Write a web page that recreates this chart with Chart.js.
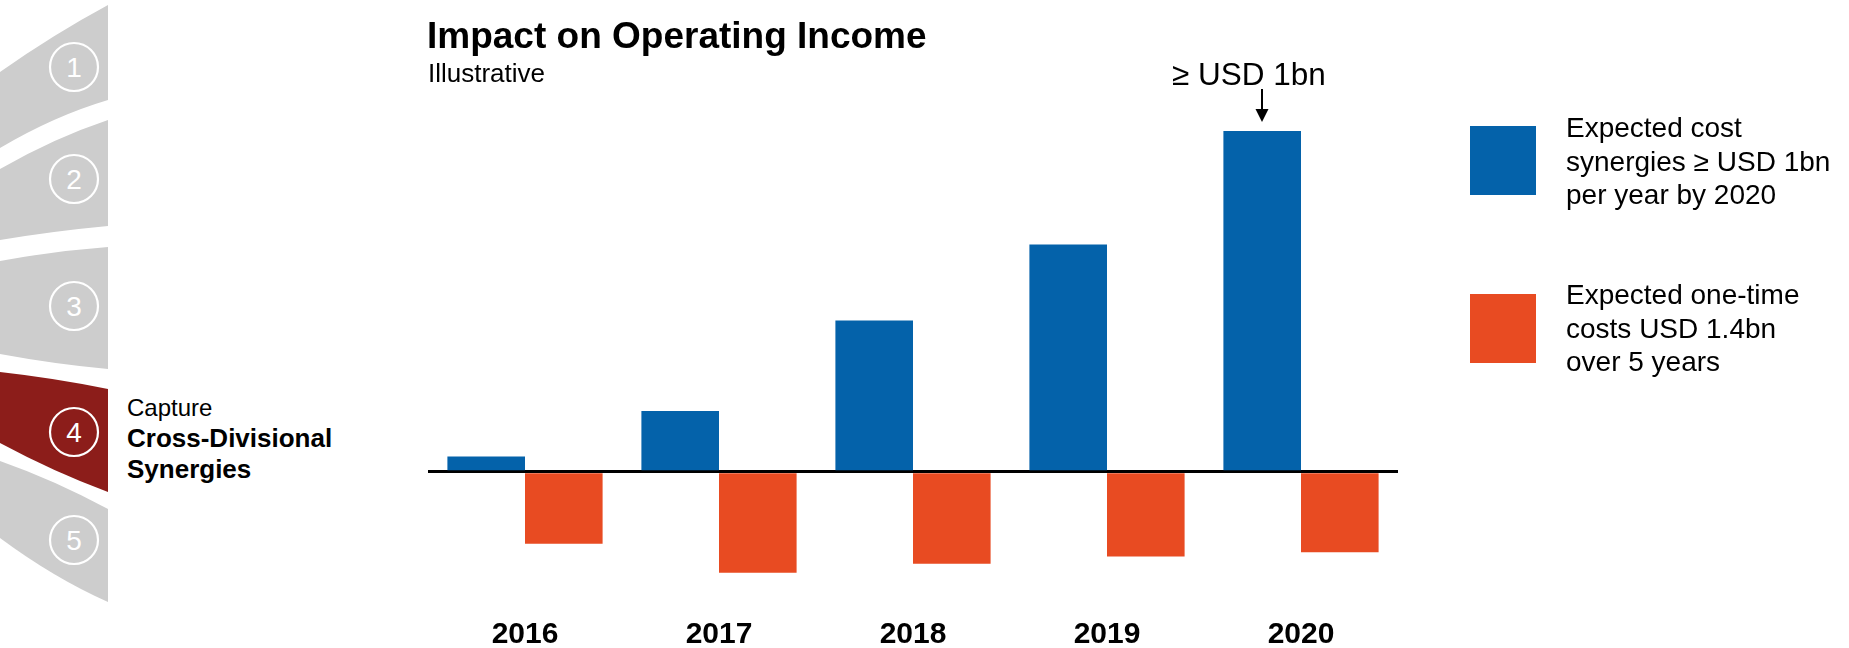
<!DOCTYPE html>
<html>
<head>
<meta charset="utf-8">
<script src="https://cdn.jsdelivr.net/npm/chart.js@4"></script>
<style>
  html, body { margin: 0; padding: 0; background: #fff; }
  body { width: 1849px; height: 648px; overflow: hidden; position: relative;
         font-family: "Liberation Sans", Arial, sans-serif; color: #000; }
  #chart { position: absolute; left: 0; top: 0; }
  .txt { position: absolute; white-space: nowrap; }
  #title { left: 427px; top: 14px; font-size: 37px; line-height: 44px; font-weight: bold; }
  #subtitle { left: 428px; top: 58px; font-size: 26px; line-height: 31px; }
  #target-label { left: 1172px; top: 55px; font-size: 31.5px; line-height: 38px; }
  .swatch { position: absolute; left: 1470px; width: 66px; height: 69px; }
  .legend-text { left: 1566px; font-size: 28px; line-height: 33.6px; }
  #nav { position: absolute; left: 0; top: 0; }
  #nav-label { left: 127px; top: 392px; font-size: 24px; line-height: 31px; }
  #nav-label b { font-weight: bold; font-size: 26px; }
</style>
</head>
<body>

<svg id="nav" width="120" height="648" viewBox="0 0 120 648">
  <g fill="#cdcdcd">
    <path d="M0,72 Q54,34 108,5 L108,100 Q54,116 0,148 Z"/>
    <path d="M0,169 Q54,138 108,120 L108,226 Q54,231 0,240 Z"/>
    <path d="M0,261 Q54,251 108,247 L108,369 Q54,364 0,354 Z"/>
    <path d="M0,461 Q54,480 108,509 L108,602 Q54,578 0,538 Z"/>
  </g>
  <path fill="#8c1d1a" d="M0,372 Q54,378 108,389 L108,492 Q54,472 0,443 Z"/>
  <g fill="none" stroke="#fff" stroke-width="2.2">
    <circle cx="74" cy="67" r="24"/>
    <circle cx="74" cy="179" r="24"/>
    <circle cx="74" cy="306" r="24"/>
    <circle cx="74" cy="432" r="24"/>
    <circle cx="74" cy="540" r="24"/>
  </g>
  <g fill="#fff" font-family="Liberation Sans, Arial, sans-serif" font-size="28" text-anchor="middle">
    <text x="74" y="77">1</text>
    <text x="74" y="189">2</text>
    <text x="74" y="316">3</text>
    <text x="74" y="442">4</text>
    <text x="74" y="550">5</text>
  </g>
</svg>

<div class="txt" id="nav-label">Capture<br><b>Cross-Divisional</b><br><b>Synergies</b></div>

<canvas id="chart" width="1849" height="648"></canvas>

<div class="txt" id="title">Impact on Operating Income</div>
<div class="txt" id="subtitle">Illustrative</div>
<div class="txt" id="target-label">≥ USD 1bn</div>

<div class="swatch" style="top:126px;background:#0462aa"></div>
<div class="txt legend-text" style="top:111px">Expected cost<br>synergies ≥ USD 1bn<br>per year by 2020</div>
<div class="swatch" style="top:294px;background:#e84b22"></div>
<div class="txt legend-text" style="top:278px">Expected one-time<br>costs USD 1.4bn<br>over 5 years</div>

<script>
// Years on the horizontal axis
const categories = ['2016', '2017', '2018', '2019', '2020'];
// Recurring cost synergies, USD m (positive impact)
const costSynergies = [45, 178, 444, 667, 1000];
// One-time integration costs, USD m (negative impact)
const oneTimeCosts = [-211, -296, -270, -249, -236];
// Bar that carries the "≥ USD 1bn" callout
const targetIndex = 4;

const BLUE = '#0462aa';
const ORANGE = '#e84b22';

// Draws the small down arrow above the target bar and lines its label up with it
const targetArrow = {
  id: 'targetArrow',
  afterDatasetsDraw(chart) {
    const bar = chart.getDatasetMeta(0).data[targetIndex];
    const ctx = chart.ctx;
    const x = Math.round(bar.x);
    const tip = bar.y - 9;
    ctx.save();
    ctx.strokeStyle = '#000';
    ctx.fillStyle = '#000';
    ctx.lineWidth = 2;
    ctx.beginPath();
    ctx.moveTo(x, tip - 33);
    ctx.lineTo(x, tip - 10);
    ctx.stroke();
    ctx.beginPath();
    ctx.moveTo(x - 6.5, tip - 13);
    ctx.lineTo(x + 6.5, tip - 13);
    ctx.lineTo(x, tip);
    ctx.closePath();
    ctx.fill();
    ctx.restore();
    document.getElementById('target-label').style.left = (x - 90) + 'px';
  }
};

// The x axis reserves its tick padding on both sides of the labels; the negative
// bottom padding lets the labels sit close to the lower edge of the canvas.
new Chart(document.getElementById('chart'), {
  type: 'bar',
  data: {
    labels: categories,
    datasets: [
      { label: 'Expected cost synergies', data: costSynergies, backgroundColor: BLUE, borderWidth: 0 },
      { label: 'Expected one-time costs', data: oneTimeCosts, backgroundColor: ORANGE, borderWidth: 0 }
    ]
  },
  options: {
    responsive: false,
    animation: false,
    devicePixelRatio: 1,
    layout: { padding: { left: 428, right: 451, top: 131, bottom: -48 } },
    datasets: { bar: { categoryPercentage: 0.8, barPercentage: 1.0 } },
    plugins: {
      legend: { display: false },
      tooltip: { enabled: false },
      title: { display: false }
    },
    scales: {
      x: {
        grid: { display: false, drawTicks: false },
        border: { display: false },
        ticks: {
          padding: 46,
          color: '#000',
          font: { family: 'Liberation Sans', size: 30, weight: 'bold', lineHeight: 1 }
        }
      },
      y: {
        min: -300,
        max: 1000,
        border: { display: false },
        grid: {
          drawTicks: false,
          lineWidth: 3,
          color: (c) => (c.tick && c.tick.value === 0 ? '#000' : 'rgba(0,0,0,0)')
        },
        ticks: { display: false, stepSize: 100 }
      }
    }
  },
  plugins: [targetArrow]
});
</script>
</body>
</html>
